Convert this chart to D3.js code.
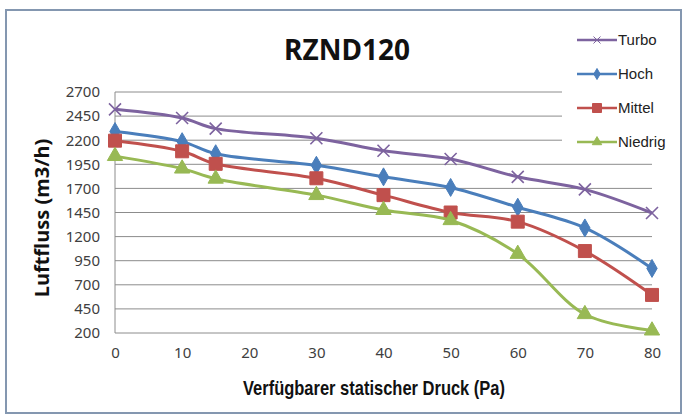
<!DOCTYPE html>
<html>
<head>
<meta charset="utf-8">
<script src="https://cdn.jsdelivr.net/npm/d3@7"></script>
<style>
  html, body { margin: 0; padding: 0; background: #fff; }
  svg { display: block; }
</style>
</head>
<body>
<svg id="chart" width="687" height="417"></svg>
<script>
// chart data
const pressure = [0, 10, 15, 30, 40, 50, 60, 70, 80]
const xTicks = [0, 10, 20, 30, 40, 50, 60, 70, 80]
const yTicks = [200, 450, 700, 950, 1200, 1450, 1700, 1950, 2200, 2450, 2700]
const turbo = [2520, 2430, 2320, 2220, 2090, 2005, 1820, 1690, 1445]
const hoch = [2290, 2185, 2060, 1940, 1820, 1710, 1505, 1290, 870]
const mittel = [2195, 2085, 1955, 1805, 1630, 1450, 1355, 1050, 595]
const niedrig = [2035, 1905, 1800, 1630, 1475, 1370, 1020, 395, 225]
const seriesNames = ['Turbo', 'Hoch', 'Mittel', 'Niedrig']

const series = [
  { name: seriesNames[0], values: turbo, color: '#7d639f', symbol: 'cross' },
  { name: seriesNames[1], values: hoch, color: '#4a7ebb', symbol: 'diamond' },
  { name: seriesNames[2], values: mittel, color: '#c0504d', symbol: 'square' },
  { name: seriesNames[3], values: niedrig, color: '#98b954', symbol: 'triangle' }
]

const svg = d3.select('#chart')

// outer chart frame
svg.append('rect')
  .attr('x', 6).attr('y', 10)
  .attr('width', 675).attr('height', 403)
  .attr('fill', '#fff')
  .attr('stroke', '#8497b0')
  .attr('stroke-width', 2)

const x = d3.scaleLinear().domain([0, 80]).range([115, 652])
const y = d3.scaleLinear().domain([200, 2700]).range([333, 92])

// gridlines
svg.append('g')
  .selectAll('line')
  .data(yTicks)
  .enter().append('line')
  .attr('x1', x(0)).attr('x2', x(80))
  .attr('y1', d => y(d)).attr('y2', d => y(d))
  .attr('stroke', '#8c8c8c')
  .attr('stroke-width', 1)

svg.append('line')
  .attr('x1', x(0)).attr('x2', x(0))
  .attr('y1', y(200)).attr('y2', y(2700))
  .attr('stroke', '#8c8c8c')

// y axis labels
const yAxis = svg.append('g')
  .attr('transform', `translate(${x(0)},0)`)
  .call(d3.axisLeft(y).tickValues(yTicks).tickFormat(d3.format('d')).tickSize(0).tickPadding(15))
yAxis.select('.domain').remove()
yAxis.selectAll('text')
  .style('font-family', '"Noto Sans", sans-serif')
  .style('font-size', '15px')
  .attr('fill', '#404040')

// x axis labels
const xAxis = svg.append('g')
  .attr('transform', `translate(0,${y(200)})`)
  .call(d3.axisBottom(x).tickValues(xTicks).tickSize(0).tickPadding(14))
xAxis.select('.domain').remove()
xAxis.selectAll('text')
  .style('font-family', '"Noto Sans", sans-serif')
  .style('font-size', '15px')
  .attr('fill', '#404040')

// title and axis titles
svg.append('text')
  .attr('x', 347).attr('y', 60)
  .attr('text-anchor', 'middle')
  .style('font-family', '"Noto Sans", sans-serif')
  .style('font-weight', 'bold')
  .style('font-size', '28px')
  .attr('fill', '#111')
  .text('RZND120')

svg.append('text')
  .attr('transform', 'translate(49,218) rotate(-90)')
  .attr('text-anchor', 'middle')
  .style('font-family', '"Noto Sans", sans-serif')
  .style('font-weight', 'bold')
  .style('font-size', '20px')
  .attr('fill', '#111')
  .text('Luftfluss (m3/h)')

// narrow bold caption, squeezed to the reference width
svg.append('text')
  .attr('x', 243).attr('y', 395)
  .attr('textLength', 262)
  .attr('lengthAdjust', 'spacingAndGlyphs')
  .style('font-family', '"Liberation Sans", Arial, sans-serif')
  .style('font-weight', 'bold')
  .style('font-size', '21px')
  .attr('fill', '#111')
  .text('Verfügbarer statischer Druck (Pa)')

const symbolPath = (type, size) => {
  if (type === 'cross') {
    const r = size / 2
    return `M${-r},${-r}L${r},${r}M${-r},${r}L${r},${-r}`
  }
  const t = type === 'diamond' ? d3.symbolDiamond : type === 'square' ? d3.symbolSquare : d3.symbolTriangle
  return d3.symbol().type(t).size(size * size * (type === 'diamond' ? 0.55 : type === 'triangle' ? 0.6 : 1))()
}

const line = d3.line()
  .x((d, i) => x(pressure[i]))
  .y(d => y(d))
  .curve(d3.curveCatmullRom.alpha(0.5))

const lines = svg.append('g')
series.forEach(s => {
  lines.append('path')
    .datum(s.values)
    .attr('d', line)
    .attr('fill', 'none')
    .attr('stroke', s.color)
    .attr('stroke-width', 3)

  lines.append('g')
    .selectAll('path')
    .data(s.values)
    .enter().append('path')
    .attr('transform', (d, i) => `translate(${x(pressure[i])},${y(d)})`)
    .attr('d', symbolPath(s.symbol, s.symbol === 'cross' ? 12 : 13))
    .attr('fill', s.symbol === 'cross' ? 'none' : s.color)
    .attr('stroke', s.color)
    .attr('stroke-width', s.symbol === 'cross' ? 1.6 : 1)
})

// legend, with a white box covering the gridlines beneath it
const legend = svg.append('g')
legend.append('rect')
  .attr('x', 562).attr('y', 18)
  .attr('width', 116).attr('height', 140)
  .attr('fill', '#fff')

const legendRow = legend.selectAll('g')
  .data(series)
  .enter().append('g')
  .attr('transform', (d, i) => `translate(577,${40 + i * 34})`)

legendRow.append('line')
  .attr('x1', 0).attr('x2', 40)
  .attr('stroke', d => d.color)
  .attr('stroke-width', 2.5)

legendRow.append('path')
  .attr('transform', 'translate(20,0)')
  .attr('d', d => symbolPath(d.symbol, d.symbol === 'cross' ? 7 : d.symbol === 'square' ? 9 : 8))
  .attr('fill', d => d.symbol === 'cross' ? 'none' : d.color)
  .attr('stroke', d => d.color)
  .attr('stroke-width', 1)

legendRow.append('text')
  .attr('x', 41).attr('y', 5)
  .style('font-family', '"Liberation Sans", Arial, sans-serif')
  .style('font-size', '15px')
  .attr('fill', '#222')
  .text(d => d.name)
</script>
</body>
</html>
